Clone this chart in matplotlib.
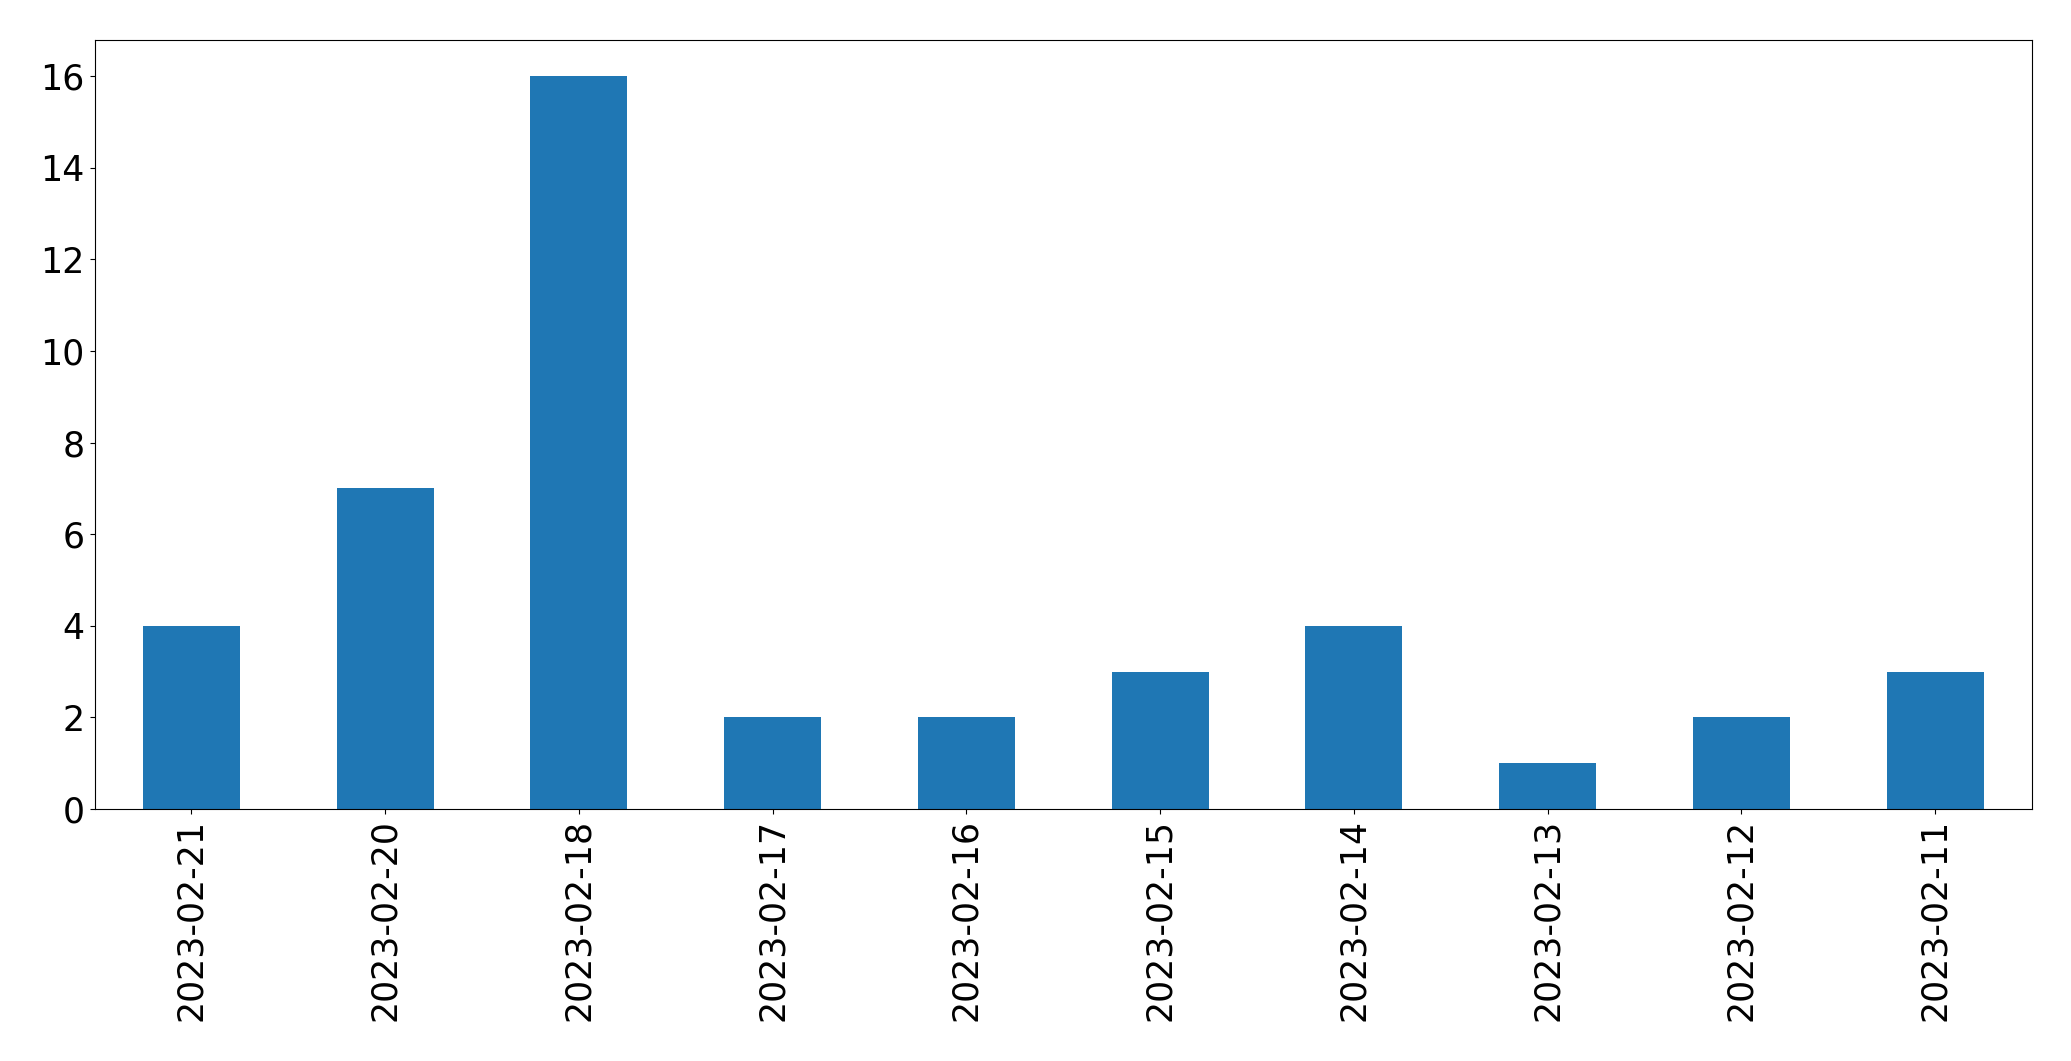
import matplotlib
matplotlib.use("Agg")
import matplotlib.pyplot as plt
import numpy as np

dates = ['2023-02-21', '2023-02-20', '2023-02-18', '2023-02-17', '2023-02-16',
         '2023-02-15', '2023-02-14', '2023-02-13', '2023-02-12', '2023-02-11']
counts = [4, 7, 16, 2, 2, 3, 4, 1, 2, 3]

W, H = 2071, 1061
fig = plt.figure(figsize=(W / 100, H / 100), dpi=100)
ax = fig.add_axes([94.5 / W, (H - 809) / H, (2032 - 94.5) / W, (809 - 39.5) / H])

x = np.arange(len(dates))
ax.bar(x, counts, width=0.5, color='#1f77b4')
ax.set_xlim(-0.5, len(dates) - 0.5)
ax.set_ylim(0, 16.8)
ax.set_yticks(range(0, 17, 2))
ax.set_xticks(x)
ax.set_xticklabels(dates, rotation=90)
ax.tick_params(labelsize=25)

fig.savefig('out.png', dpi=100)
